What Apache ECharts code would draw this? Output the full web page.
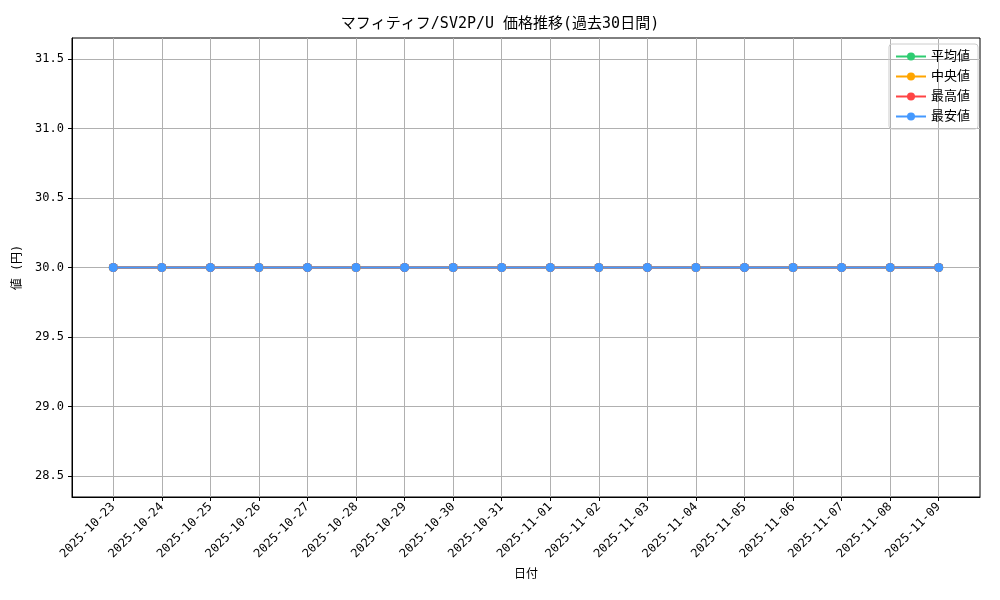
<!DOCTYPE html><html><head><meta charset="utf-8"><script src="https://cdn.jsdelivr.net/npm/echarts@6/dist/echarts.min.js"></script></head><body style="margin:0"><div id="c" style="width:1000px;height:600px"></div><script>
const dates=["2025-10-23","2025-10-24","2025-10-25","2025-10-26","2025-10-27","2025-10-28","2025-10-29","2025-10-30","2025-10-31","2025-11-01","2025-11-02","2025-11-03","2025-11-04","2025-11-05","2025-11-06","2025-11-07","2025-11-08","2025-11-09"];
const avgVals=[30,30,30,30,30,30,30,30,30,30,30,30,30,30,30,30,30,30];
const medVals=[30,30,30,30,30,30,30,30,30,30,30,30,30,30,30,30,30,30];
const maxVals=[30,30,30,30,30,30,30,30,30,30,30,30,30,30,30,30,30,30];
const minVals=[30,30,30,30,30,30,30,30,30,30,30,30,30,30,30,30,30,30];
const yTicks=[28.5,29.0,29.5,30.0,30.5,31.0,31.5];
const F='"DejaVu Sans Mono","Noto Sans CJK JP"';
const idx=dates.map((d,i)=>i);
function s(name,vals,color){return {name,type:'line',data:vals.map((v,i)=>[i,v]),symbol:'circle',symbolSize:9,itemStyle:{color},lineStyle:{color,width:2},animation:false};}
const ch=echarts.init(document.getElementById('c'));
ch.setOption({
 title:{text:'マフィティフ/SV2P/U 価格推移(過去30日間)',left:'center',top:12,textStyle:{fontFamily:F,fontSize:15,fontWeight:'normal',color:'#000'}},
 legend:{right:22,top:44,orient:'vertical',itemGap:7,itemWidth:30,itemHeight:10,borderColor:'#ccc',borderWidth:1,borderRadius:3,padding:[6,8,6,6],textStyle:{fontFamily:F,fontSize:13,color:'#000'},data:['平均値','中央値','最高値','最安値']},
 grid:{left:72,right:20,top:38,bottom:103},
 xAxis:{type:'value',min:-0.85,max:17.85,name:'日付',nameLocation:'middle',nameGap:72,nameTextStyle:{fontFamily:F,fontSize:12,color:'#000'},
  axisLine:{show:true,onZero:false,lineStyle:{color:'#000'}},
  axisTick:{show:true,customValues:idx,length:4,lineStyle:{color:'#000'}},
  axisLabel:{customValues:idx,rotate:45,formatter:v=>dates[Math.round(v)],fontFamily:F,fontSize:12,color:'#000',margin:8},
  splitLine:{show:true,lineStyle:{color:'#b0b0b0'}}},
 yAxis:{type:'value',min:28.35,max:31.65,name:'値 (円)',nameLocation:'middle',nameGap:45,nameTextStyle:{fontFamily:F,fontSize:12,color:'#000'},
  axisLine:{show:true,onZero:false,lineStyle:{color:'#000'}},
  axisTick:{show:true,customValues:yTicks,length:4,lineStyle:{color:'#000'}},
  axisLabel:{customValues:yTicks,formatter:v=>v.toFixed(1),fontFamily:F,fontSize:12,color:'#000'},
  splitLine:{show:true,lineStyle:{color:'#b0b0b0'}}},
 graphic:[{type:'rect',shape:{x:72,y:38,width:908,height:459},style:{fill:'none',stroke:'#000',lineWidth:1},silent:true}],
 series:[s('平均値',avgVals,'#2ecc71'),s('中央値',medVals,'#ffa500'),s('最高値',maxVals,'#ff4444'),s('最安値',minVals,'#4499ff')]
});
</script></body></html>
